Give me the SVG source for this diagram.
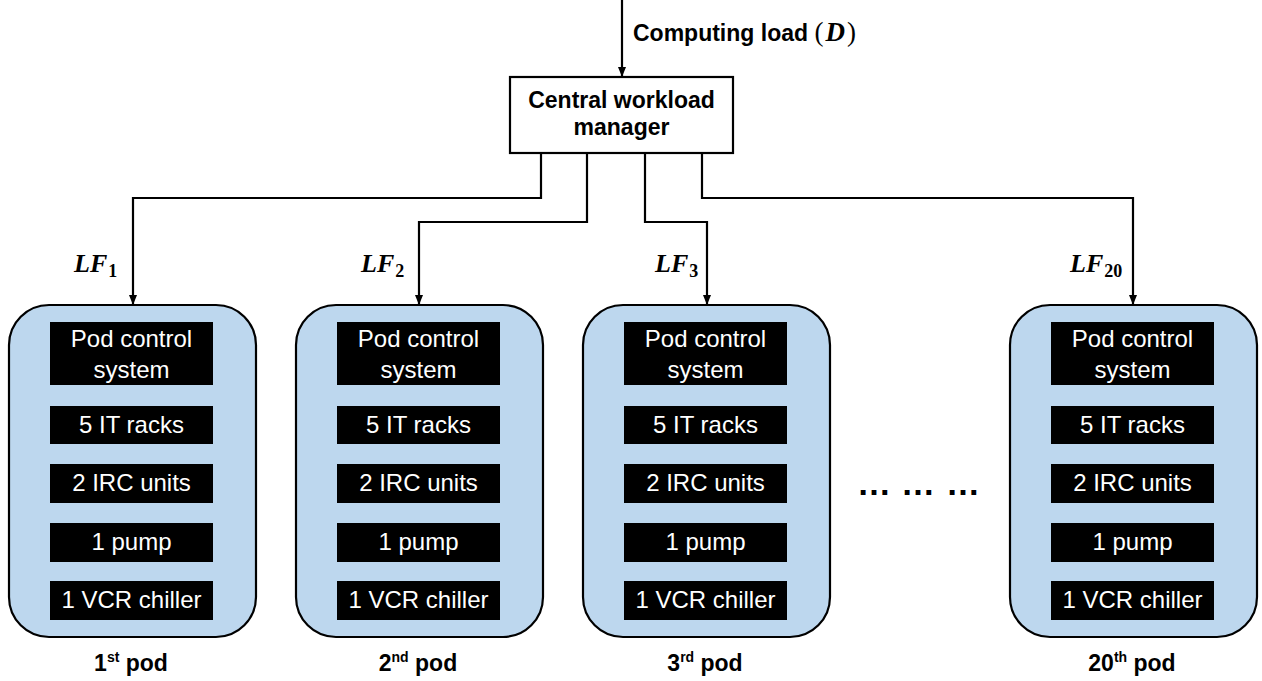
<svg xmlns="http://www.w3.org/2000/svg" width="1262" height="681" viewBox="0 0 1262 681">
<defs>
<style>
.pod{fill:#BDD7EE;stroke:#000;stroke-width:2.2}
.blk{fill:#000}
.wt{font-family:"Liberation Sans",Arial,sans-serif;font-size:24px;fill:#fff;text-anchor:middle}
.bt{font-family:"Liberation Sans",Arial,sans-serif;font-size:23px;font-weight:bold;fill:#000}
.lbl{font-family:"Liberation Sans",Arial,sans-serif;font-size:23px;font-weight:bold;fill:#000;text-anchor:middle}
.sup{font-size:14px}
.lf{font-family:"Liberation Serif","Times New Roman",serif;font-size:26px;font-weight:bold;font-style:italic;fill:#000}
.sub{font-size:18px;font-style:normal}
.mth{font-family:"Liberation Serif","Times New Roman",serif;font-size:27px}
.conn{fill:none;stroke:#000;stroke-width:2.2}
</style>
<marker id="arr" viewBox="0 0 10 10" refX="10" refY="5" markerWidth="10" markerHeight="10" markerUnits="userSpaceOnUse" orient="auto">
<path d="M0,1 L10,5 L0,9 Z" fill="#000"/>
</marker>
<g id="podtpl">
<rect class="pod" x="0" y="0" width="247" height="332" rx="40" ry="40"/>
<rect class="blk" x="41" y="17" width="163" height="63"/>
<rect class="blk" x="41" y="101" width="163" height="38"/>
<rect class="blk" x="41" y="159" width="163" height="39"/>
<rect class="blk" x="41" y="218" width="163" height="39"/>
<rect class="blk" x="41" y="276" width="163" height="39"/>
<text class="wt" x="122.5" y="42">Pod control</text>
<text class="wt" x="122.5" y="73">system</text>
<text class="wt" x="122.5" y="128">5 IT racks</text>
<text class="wt" x="122.5" y="186">2 IRC units</text>
<text class="wt" x="122.5" y="245">1 pump</text>
<text class="wt" x="122.5" y="303">1 VCR chiller</text>
</g>
</defs>
<rect width="1262" height="681" fill="#fff"/>

<g id="connectors">
<line class="conn" x1="622" y1="0" x2="622" y2="77" marker-end="url(#arr)"/>
<polyline class="conn" points="541,153 541,198 133,198 133,305" marker-end="url(#arr)"/>
<polyline class="conn" points="587,153 587,222 419,222 419,305" marker-end="url(#arr)"/>
<polyline class="conn" points="645,153 645,222 707,222 707,305" marker-end="url(#arr)"/>
<polyline class="conn" points="702,153 702,198 1133,198 1133,305" marker-end="url(#arr)"/>
</g>

<g id="input-label">
<text class="bt" x="633" y="41">Computing load <tspan class="mth" font-weight="normal">(</tspan><tspan class="mth" font-style="italic" dx="2">D</tspan><tspan class="mth" font-weight="normal" dx="2">)</tspan></text>
</g>

<g id="manager">
<rect x="510" y="77" width="223" height="76" fill="#fff" stroke="#000" stroke-width="2.2"/>
<text class="bt" x="621.5" y="108" text-anchor="middle">Central workload</text>
<text class="bt" x="621.5" y="135" text-anchor="middle">manager</text>
</g>

<g id="lf-labels">
<text class="lf" x="74" y="272">LF<tspan class="sub" dx="1" dy="5">1</tspan></text>
<text class="lf" x="361" y="272">LF<tspan class="sub" dx="1" dy="5">2</tspan></text>
<text class="lf" x="655" y="272">LF<tspan class="sub" dx="1" dy="5">3</tspan></text>
<text class="lf" x="1070" y="272">LF<tspan class="sub" dx="1" dy="5">20</tspan></text>
</g>

<g id="pod1"><use href="#podtpl" x="9" y="305"/>
<text class="lbl" x="131" y="671">1<tspan class="sup" dy="-9">st</tspan><tspan dy="9"> pod</tspan></text></g>
<g id="pod2"><use href="#podtpl" x="296" y="305"/>
<text class="lbl" x="418" y="671">2<tspan class="sup" dy="-9">nd</tspan><tspan dy="9"> pod</tspan></text></g>
<g id="pod3"><use href="#podtpl" x="583" y="305"/>
<text class="lbl" x="705" y="671">3<tspan class="sup" dy="-9">rd</tspan><tspan dy="9"> pod</tspan></text></g>
<g id="pod20"><use href="#podtpl" x="1010" y="305"/>
<text class="lbl" x="1132" y="671">20<tspan class="sup" dy="-9">th</tspan><tspan dy="9"> pod</tspan></text></g>

<g id="ellipsis">
<text x="857 901 946" y="495" font-family="'Liberation Sans',Arial,sans-serif" font-size="34" font-weight="bold" fill="#000">………</text>
</g>
</svg>
